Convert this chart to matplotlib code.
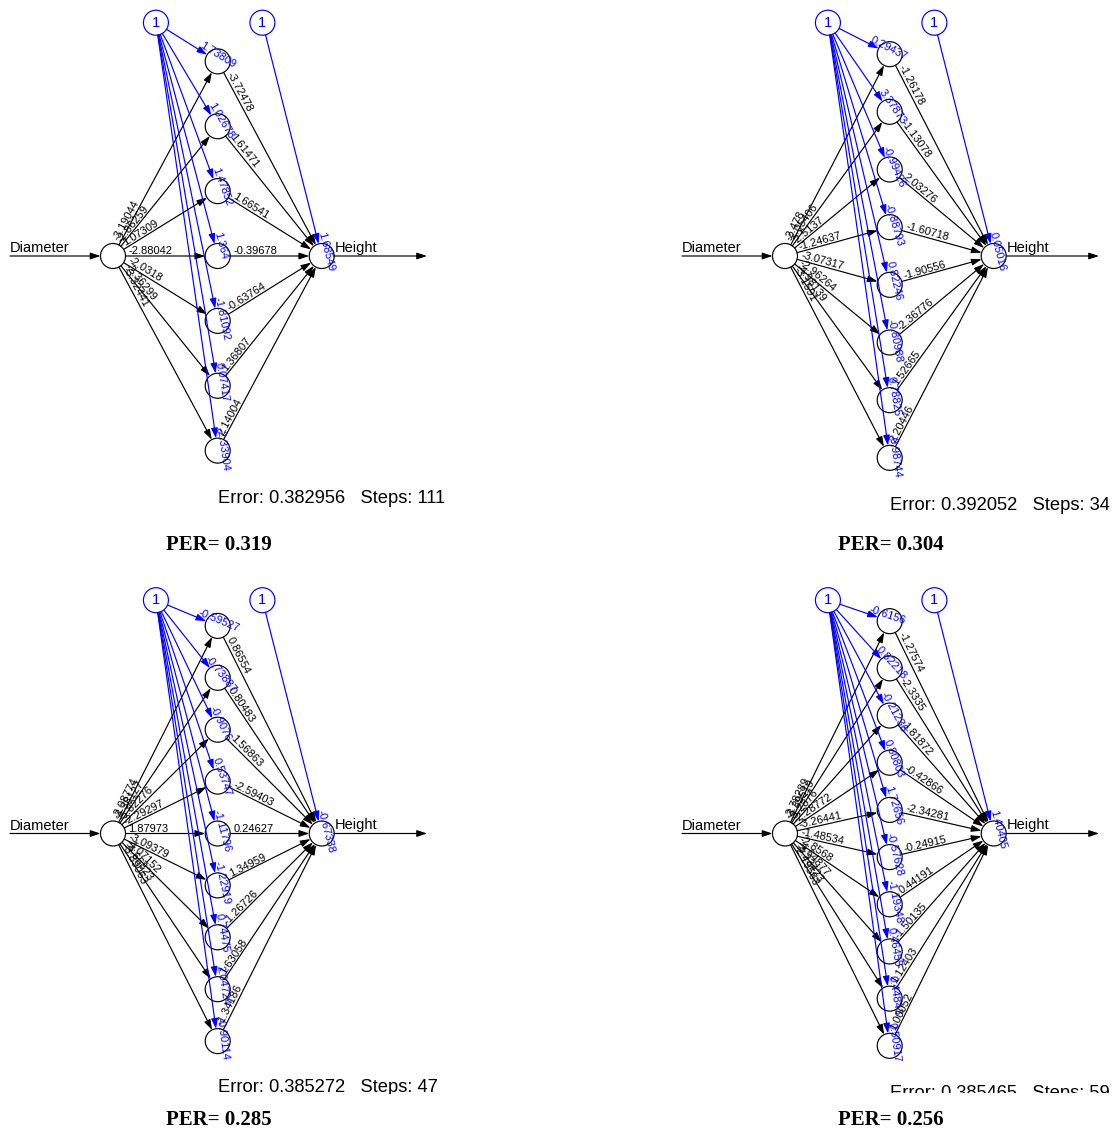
import numpy as np
import matplotlib as mpl
import matplotlib.pyplot as plt
from matplotlib.patches import Circle, FancyArrowPatch, ArrowStyle


plt.switch_backend('Agg')

# Network 1 (7 hidden neurons)
weights_in_1 = [-3.19044, -2.86259, 1.07309, -2.88042, -2.0318, -2.36299,
                -3.32441]
bias_hidden_1 = [1.73809, 1.02678, 1.47852, 1.364, -1.81092, 0.07417,
                 -2.33904]
weights_out_1 = [-3.72478, 1.61471, 1.66541, -0.39678, -0.63764, 1.36807,
                 2.14004]
bias_out_1 = 1.68549

# Network 2 (8 hidden neurons)
weights_in_2 = [-2.478, -2.05406, -2.5137, -1.24637, -3.07317, -2.96264,
                -4.98139, -3.1591]
bias_hidden_2 = [0.29437, 3.37873, -0.99426, -0.88793, 0.82246, -0.80988,
                 0.78825, -0.98744]
weights_out_2 = [-1.26178, -1.13078, 2.03276, -1.60718, -1.90556, -2.36776,
                 1.52665, 2.20446]
bias_out_2 = 0.05016

# Network 3 (9 hidden neurons)
weights_in_3 = [-2.08774, -3.38127, -5.82276, -2.29297, 1.87973, -3.09379,
                -4.07152, -4.66823, -3.89063]
bias_hidden_3 = [-0.59527, -0.73887, -0.9076, 0.53747, -1.11796, -1.22919,
                 0.74475, 2.04724, -0.90114]
weights_out_3 = [0.86554, 0.80483, 1.56863, -2.59403, 0.24627, 1.34959,
                 -1.26726, 1.63058, -1.34186]
bias_out_3 = -0.67338

# Network 4 (10 hidden neurons)
weights_in_4 = [-2.78289, -3.39519, -3.2876, -2.28772, -3.26441, -1.48534,
                -2.8568, -4.64877, -4.23423, -2.19563]
bias_hidden_4 = [-0.6156, 0.82218, -0.21236, 0.80803, 1.72656, -0.57628,
                 -1.19348, 0.46455, 0.44843, 0.50917]
weights_out_4 = [-1.27574, -2.3335, 1.81872, -0.42866, -2.34281, -0.24915,
                 0.44191, -1.50135, 1.12403, 1.00052]
bias_out_4 = 1.40405

errors = [0.382956, 0.392052, 0.385272, 0.385465]
steps = [111, 34, 47, 59]
per_values = [0.319, 0.304, 0.285, 0.256]

input_name = 'Diameter'
output_name = 'Height'

FIG_W, FIG_H = 1114, 1135
NODE_R = 12.5
LAYER_X = [113, 217.7, 321.7]
LAYER_H = 519
BLUE = '#0000FF'
SANS = 'Liberation Sans'


def fmt(value):
    return str(round(value, 5))


def unit(p1, p2):
    d = np.array(p2, float) - np.array(p1, float)
    return d / np.hypot(d[0], d[1])


def draw_arrow(axes, p1, p2, color, r1=NODE_R, r2=NODE_R):
    """
    Line from edge of node p1 to edge of node p2 with arrow head
    """
    u = unit(p1, p2)
    start = np.array(p1, float) + u * r1
    end = np.array(p2, float) - u * r2
    style = ArrowStyle('-|>', head_length=0.6, head_width=0.2)
    arrow = FancyArrowPatch(start, end, arrowstyle=style, mutation_scale=10,
                            color=color, lw=0.85, shrinkA=0, shrinkB=0)
    axes.add_patch(arrow)
    return start, end, u


def draw_label(axes, pos, u, value, color):
    angle = np.degrees(np.arctan2(-u[1], u[0]))
    axes.text(pos[0], pos[1], fmt(value), rotation=angle,
              rotation_mode='anchor', ha='left', va='bottom',
              fontsize=8, color=color, family=SANS, clip_on=True)


def draw_node(axes, pos, color, label=None):
    axes.add_patch(Circle(pos, NODE_R, fill=False, ec=color, lw=0.85))
    if label is not None:
        axes.text(pos[0], pos[1], label, ha='center', va='center',
                  fontsize=10.5, color=color, family=SANS, clip_on=True)


def plot_network(axes, x_shift, y_center, w_in, b_hid, w_out, b_out,
                 error, n_steps, error_y):
    """
    Draw one neuralnet-style plot
    :param axes: axes in pixel coordinates
    :param x_shift: horizontal offset of the panel
    :param y_center: vertical center of the layers
    """
    n_hidden = len(w_in)
    spacing = LAYER_H / (n_hidden + 1)
    hidden_y = y_center + (np.arange(1, n_hidden + 1)
                           - (n_hidden + 1) / 2) * spacing
    x_in, x_hid, x_out = [x + x_shift for x in LAYER_X]
    p_in = (x_in, y_center)
    p_out = (x_out, y_center)
    bias1 = (x_in + 0.41 * (x_hid - x_in), y_center - 233.3)
    bias2 = (x_hid + 0.43 * (x_out - x_hid), y_center - 233.3)

    # input and output lines
    draw_arrow(axes, (10 + x_shift, y_center), p_in, 'black', r1=0)
    draw_arrow(axes, p_out, (427 + x_shift, y_center), 'black', r2=0)
    axes.text(10 + x_shift, y_center - 1, input_name, ha='left',
              va='bottom', fontsize=10.5, family=SANS, clip_on=True)
    axes.text(x_out + NODE_R + 1, y_center - 1, output_name, ha='left',
              va='bottom', fontsize=10.5, family=SANS, clip_on=True)

    for i in range(n_hidden):
        p_hid = (x_hid, hidden_y[i])
        start, end, u = draw_arrow(axes, p_in, p_hid, 'black')
        draw_label(axes, start + 3 * u, u, w_in[i], 'black')
        start, end, u = draw_arrow(axes, p_hid, p_out, 'black')
        draw_label(axes, start + 3 * u, u, w_out[i], 'black')
        start, end, u = draw_arrow(axes, bias1, p_hid, BLUE)
        draw_label(axes, np.array(p_hid) - 23 * u, u, b_hid[i], BLUE)
        draw_node(axes, p_hid, 'black')

    start, end, u = draw_arrow(axes, bias2, p_out, BLUE)
    draw_label(axes, np.array(p_out) - 23 * u, u, b_out, BLUE)

    draw_node(axes, p_in, 'black')
    draw_node(axes, p_out, 'black')
    draw_node(axes, bias1, BLUE, '1')
    draw_node(axes, bias2, BLUE, '1')

    axes.text(218 + x_shift, error_y,
              'Error: ' + str(error) + '   Steps: ' + str(n_steps),
              ha='left', va='center', fontsize=13.2, family=SANS,
              clip_on=True)


def add_panel(fig, x0, y0, x1, y1):
    axes = fig.add_axes([x0 / FIG_W, 1 - y1 / FIG_H,
                         (x1 - x0) / FIG_W, (y1 - y0) / FIG_H])
    axes.set_xlim(x0, x1)
    axes.set_ylim(y1, y0)
    axes.axis('off')
    return axes


fig = plt.figure()
fig.set_size_inches(FIG_W / 100, FIG_H / 100)
fig.dpi = 100

panels = [
    (add_panel(fig, 0, 0, 460, 560), 0, 256, weights_in_1, bias_hidden_1,
     weights_out_1, bias_out_1, 498),
    (add_panel(fig, 672, 0, 1114, 560), 672, 256, weights_in_2,
     bias_hidden_2, weights_out_2, bias_out_2, 505),
    (add_panel(fig, 0, 570, 460, 1094), 0, 833.5, weights_in_3,
     bias_hidden_3, weights_out_3, bias_out_3, 1088),
    (add_panel(fig, 672, 570, 1114, 1093), 672, 833.5, weights_in_4,
     bias_hidden_4, weights_out_4, bias_out_4, 1094),
]

per_pos = [(218.5, 545), (890.5, 545), (218.5, 1120), (890.5, 1120)]

for k, panel in enumerate(panels):
    axes, x_shift, y_center, w_in, b_hid, w_out, b_out, error_y = panel
    plot_network(axes, x_shift, y_center, w_in, b_hid, w_out, b_out,
                 errors[k], steps[k], error_y)
    fig.text(per_pos[k][0] / FIG_W, 1 - per_pos[k][1] / FIG_H,
             'PER= ' + str(per_values[k]), ha='center', va='center',
             fontsize=15, fontweight='bold', family='Liberation Serif')

plt.savefig('out.png', dpi=100)
plt.close(fig)
